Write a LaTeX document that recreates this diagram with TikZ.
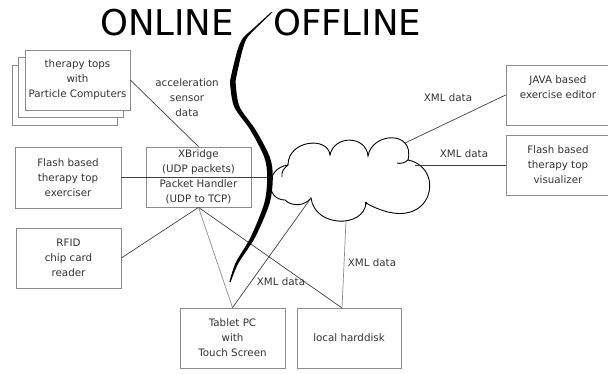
\documentclass[tikz,border=0pt]{standalone}
\usepackage{fontspec}
\setmainfont{DejaVu Sans}
\usepackage{tikz}

\begin{document}
\begin{tikzpicture}[x=1pt,y=-1pt,
	box/.style={draw=black!45,line width=0.7pt,fill=white,inner sep=0pt,minimum width=105pt,minimum height=60pt,align=center,text=black!80,font=\fontsize{10.3}{15}\selectfont},
	lbl/.style={text=black!80,font=\fontsize{10.3}{15}\selectfont,align=center,inner sep=0pt},
	title/.style={anchor=base west,inner sep=0pt,font=\fontsize{35.5}{40}\selectfont},
	link/.style={draw=black!75,line width=0.7pt},
	faint/.style={draw=black!45,line width=0.7pt}]
	
	\useasboundingbox (0,0) rectangle (608,373);
	
	\node[title] (online) at (100,35) {ONLINE};
	\node[title] (offline) at (273,35) {OFFLINE};
	
	\node[box] (tops3) at (64.8,95.8) {};
	\node[box] (tops2) at (70.8,87.5) {};
	\node[box] (tops) at (77.5,80) {therapy tops\\with\\Particle Computers};
	\node[box,minimum width=106pt,minimum height=61pt] (flash) at (68,177.5) {Flash based\\therapy top\\exerciser};
	\node[box,minimum height=30pt] (xbridge) at (198.5,162) {XBridge\\(UDP packets)};
	\node[box,minimum height=30pt] (handler) at (198.5,192) {Packet Handler\\(UDP to TCP)};
	\node[box] (rfid) at (68.5,258) {RFID\\chip card\\reader};
	\node[box] (tablet) at (232.5,338) {Tablet PC\\with\\Touch Screen};
	\node[box,minimum width=104pt] (disk) at (349,338) {local harddisk};
	\node[box,minimum width=104pt] (editor) at (558,95) {JAVA based\\exercise editor\\\mbox{}};
	\node[box,minimum width=104pt] (visual) at (558,165) {Flash based\\therapy top\\visualizer};
	
	\draw[line width=0.9pt] (285,200) .. controls (265,200) and (265,168) .. (288,165)
		.. controls (288,140) and (328,136) .. (330,155)
		.. controls (334,135) and (366,135) .. (368,156)
		.. controls (372,132) and (415,130) .. (408,160)
		.. controls (448,168) and (432,240) .. (366,203)
		.. controls (364,228) and (315,228) .. (311,198)
		.. controls (305,206) and (292,207) .. cycle;
	\draw[line width=0.9pt] (288,165) .. controls (284,168) and (281,172) .. (282,177);
	\draw[line width=0.9pt] (408,160) .. controls (405,163) and (400,164) .. (397,163);
	\fill (366,203) circle (1.3);
	
	\coordinate (cflash) at (271,177.5);
	\coordinate (ceditor) at (405,143);
	\coordinate (cvisual) at (415,165);
	\coordinate (ctablet) at (311,198);
	\coordinate (cdisk) at (346,221);
	\coordinate (disktop) at (342,308);
	
	\node[lbl] (accel) at (187,98) {acceleration\\sensor\\data};
	\node[lbl] (xmleditor) at (448,98) {XML data};
	\node[lbl] (xmlvisual) at (464,154) {XML data};
	\node[lbl] (xmltablet) at (281,282) {XML data};
	\node[lbl] (xmldisk) at (372,263) {XML data};
	
	\draw[link] (tops.east) -- (xbridge.north);
	\draw[link,line width=1pt] (flash.east) -- (cflash);
	\draw[link] (rfid.east) -- (handler.south);
	\draw[faint] (handler.south) -- (tablet.north);
	\draw[link] (handler.south) -- (disktop);
	\draw[link] (tablet.north) -- (ctablet);
	\draw[faint] (disktop) -- (cdisk);
	\draw[link] (ceditor) -- (editor.west);
	\draw[link] (cvisual) -- (visual.west);
	
	\fill plot[smooth] coordinates {(271.3,12) (253.8,28) (243,38) (237.5,50) (231.3,75) (230.2,85) (234.3,107) (250.3,130) (264.2,157) (267.2,177) (264.3,203) (250.7,237) (235.5,263) (229.4,282)}
		-- plot[smooth] coordinates {(230.6,282) (238.5,263) (255.3,237) (269.7,203) (272.8,177) (269.8,157) (255.7,130) (239.7,107) (235.8,85) (236.7,75) (242.5,50) (247,38) (256.2,28) (272.7,12)} -- cycle;
	
\end{tikzpicture}
\end{document}
